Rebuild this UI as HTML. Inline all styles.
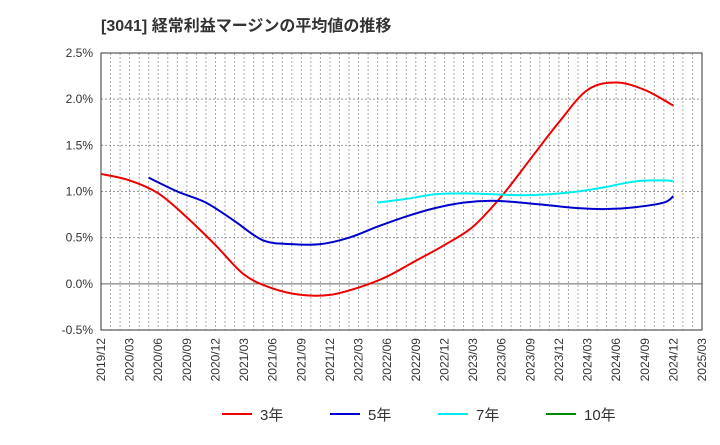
<!DOCTYPE html>
<html><head><meta charset="utf-8"><style>
body{margin:0;background:#fff;font-family:"Liberation Sans","Noto Sans CJK JP",sans-serif}
</style></head><body>
<svg id="c" width="720" height="440" xmlns="http://www.w3.org/2000/svg" font-family="Liberation Sans, Noto Sans CJK JP, sans-serif">
<text x="101" y="31" font-size="16" font-weight="bold" fill="#333">[3041]  経常利益マージンの平均値の推移</text>
<g id="grid"></g><g id="axes"></g><g id="series"></g><g id="legend"></g>
</svg>
<script>
const xLabels=["2019/12","2020/03","2020/06","2020/09","2020/12","2021/03","2021/06","2021/09","2021/12","2022/03","2022/06","2022/09","2022/12","2023/03","2023/06","2023/09","2023/12","2024/03","2024/06","2024/09","2024/12","2025/03"];
const yTicks=[-0.5,0,0.5,1,1.5,2,2.5];
const yTickLabels=["-0.5%","0.0%","0.5%","1.0%","1.5%","2.0%","2.5%"];
const months3=[0,3,6,9,12,15,18,21,24,27,30,33,36,39,42,45,48,51,54,57,60];
const vals3=[1.19,1.12,0.98,0.72,0.42,0.10,-0.05,-0.12,-0.12,-0.04,0.08,0.25,0.42,0.62,0.95,1.35,1.75,2.10,2.18,2.10,1.93];
const months5=[5,8,11,14,17,20,23,26,29,32,35,38,41,44,47,50,53,56,59,60];
const vals5=[1.15,1.00,0.88,0.68,0.47,0.43,0.43,0.50,0.62,0.73,0.82,0.88,0.90,0.88,0.85,0.82,0.81,0.83,0.88,0.95];
const months7=[29,32,35,38,41,44,47,50,53,56,59,60];
const vals7=[0.88,0.92,0.97,0.98,0.97,0.96,0.97,1.00,1.05,1.11,1.12,1.11];
const L=101,R=702,T=53,B=330,NM=63;
const xs=m=>L+(R-L)*m/NM;
const ys=v=>B-(v+0.5)/3*(B-T);
const NS="http://www.w3.org/2000/svg";
function mk(p,t,a){const e=document.createElementNS(NS,t);for(const k in a)e.setAttribute(k,a[k]);p.appendChild(e);return e;}
const g=document.getElementById('grid'),ax=document.getElementById('axes'),sg=document.getElementById('series'),lg=document.getElementById('legend');
for(let m=1;m<NM;m++){const l=mk(g,'line',{x1:xs(m),x2:xs(m),y1:T,y2:B,stroke:'#aaa','stroke-dasharray':'2,2','stroke-width':1});

}
yTicks.forEach((v,i)=>{const y=ys(v);
if(i>0&&i<yTicks.length-1){const l=mk(g,'line',{x1:L,x2:R,y1:y,y2:y,stroke:v===0?'#666':'#999','stroke-dasharray':v===0?'':'2,2'});

}
const t=mk(ax,'text',{x:L-8,y:y+4,'text-anchor':'end','font-size':12,fill:'#333'});t.textContent=yTickLabels[i];

});
const fr=mk(ax,'rect',{x:L,y:T,width:R-L,height:B-T,fill:'none',stroke:'#333'});


xLabels.forEach((s,i)=>{const x=xs(i*3);const t=mk(ax,'text',{transform:`translate(${x+4},${B+8}) rotate(-90)`,'text-anchor':'end','font-size':12,fill:'#333'});t.textContent=s;

});
function path(ms,vs){const p=ms.map((m,i)=>[xs(m),ys(vs[i])]);let d=`M${p[0][0]},${p[0][1]}`;
for(let i=0;i<p.length-1;i++){const p0=p[i-1]||p[i],p1=p[i],p2=p[i+1],p3=p[i+2]||p2;
d+=`C${p1[0]+(p2[0]-p0[0])/6},${p1[1]+(p2[1]-p0[1])/6} ${p2[0]-(p3[0]-p1[0])/6},${p2[1]-(p3[1]-p1[1])/6} ${p2[0]},${p2[1]}`;}return d;}
[[months3,vals3,'#e00','line-3yr'],[months5,vals5,'#00c','line-5yr'],[months7,vals7,'#0ee','line-7yr']].forEach(s=>{
const e=mk(sg,'path',{d:path(s[0],s[1]),fill:'none',stroke:s[2],'stroke-width':2});

});
[['3年','#e00',222],['5年','#00c',330],['7年','#0ee',438],['10年','#080',546]].forEach(s=>{
const l=mk(lg,'line',{x1:s[2],x2:s[2]+30,y1:414,y2:414,stroke:s[1],'stroke-width':2});


const t=mk(lg,'text',{x:s[2]+38,y:420,'font-size':15,fill:'#333'});t.textContent=s[0];

});
</script>
</body></html>
